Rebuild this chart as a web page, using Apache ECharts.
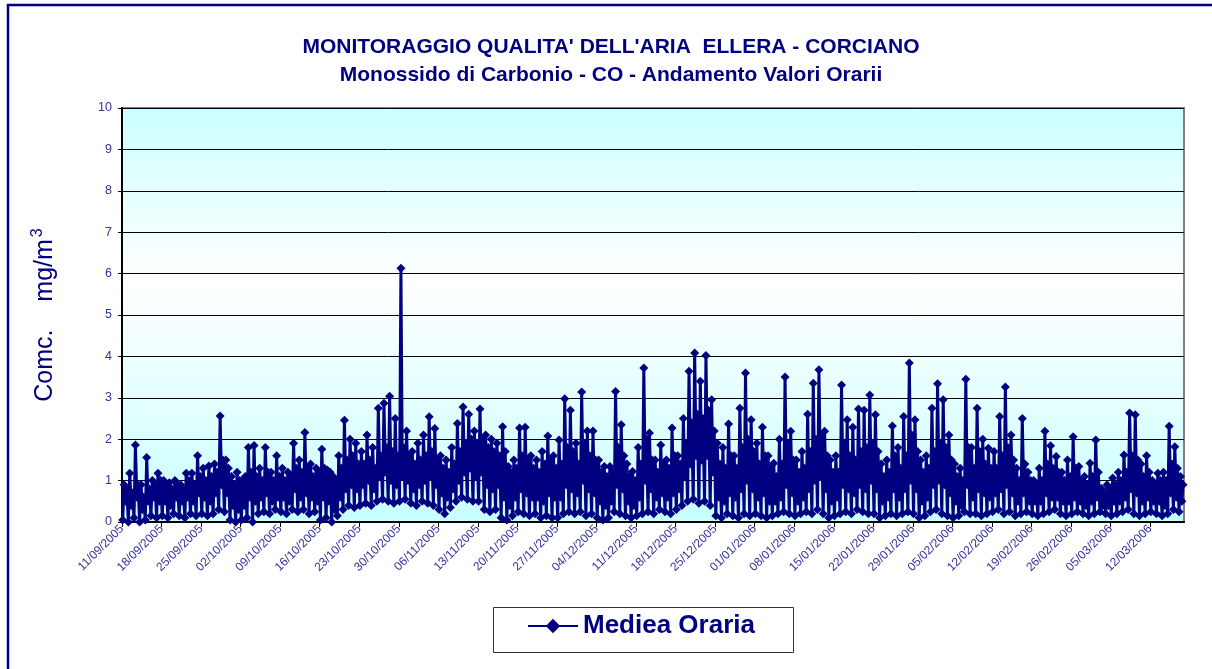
<!DOCTYPE html>
<html>
<head>
<meta charset="utf-8">
<script src="https://cdn.jsdelivr.net/npm/echarts@6/dist/echarts.min.js"></script>
<style>
	html, body { margin: 0; padding: 0; background: #fff; }
	#chart { width: 1212px; height: 669px; }
</style>
</head>
<body>
<div id="chart"></div>
<script>
// ore del giorno a cui sono letti i quattro valori giornalieri
var ore = [ 3, 9, 15, 20 ];

// etichette asse X (una ogni 7 giorni dal 11/09/2005)
var etichette = [
	'11/09/2005', '18/09/2005', '25/09/2005', '02/10/2005', '09/10/2005', '16/10/2005', '23/10/2005',
	'30/10/2005', '06/11/2005', '13/11/2005', '20/11/2005', '27/11/2005', '04/12/2005', '11/12/2005',
	'18/12/2005', '25/12/2005', '01/01/2006', '08/01/2006', '15/01/2006', '22/01/2006', '29/01/2006',
	'05/02/2006', '12/02/2006', '19/02/2006', '26/02/2006', '05/03/2006', '12/03/2006'
];

// valori notturni (ore 3), una riga per settimana
var notte = [
	0.05, 0.0, 0.1, 0.0, 0.05, 0.15, 0.1,
	0.15, 0.1, 0.2, 0.15, 0.1, 0.2, 0.15,
	0.2, 0.15, 0.2, 0.3, 0.25, 0.05, 0.0,
	0.05, 0.1, 0.0, 0.2, 0.25, 0.2, 0.3,
	0.25, 0.2, 0.3, 0.25, 0.3, 0.2, 0.25,
	0.05, 0.1, 0.0, 0.15, 0.3, 0.4, 0.35,
	0.4, 0.45, 0.4, 0.5, 0.55, 0.5, 0.45,
	0.5, 0.55, 0.45, 0.4, 0.5, 0.45, 0.4,
	0.3, 0.2, 0.35, 0.5, 0.6, 0.55, 0.5,
	0.5, 0.3, 0.25, 0.3, 0.1, 0.05, 0.15,
	0.25, 0.2, 0.15, 0.2, 0.1, 0.15, 0.1,
	0.1, 0.2, 0.25, 0.2, 0.25, 0.15, 0.2,
	0.1, 0.05, 0.1, 0.25, 0.2, 0.15, 0.1,
	0.15, 0.2, 0.25, 0.2, 0.3, 0.25, 0.2,
	0.3, 0.4, 0.5, 0.55, 0.45, 0.5, 0.4,
	0.15, 0.1, 0.2, 0.15, 0.1, 0.2, 0.15,
	0.2, 0.15, 0.1, 0.15, 0.2, 0.25, 0.2,
	0.15, 0.2, 0.25, 0.2, 0.3, 0.2, 0.1,
	0.15, 0.2, 0.25, 0.2, 0.3, 0.25, 0.2,
	0.2, 0.1, 0.15, 0.2, 0.15, 0.2, 0.25,
	0.2, 0.1, 0.15, 0.25, 0.3, 0.2, 0.15,
	0.1, 0.15, 0.25, 0.2, 0.2, 0.15, 0.2,
	0.25, 0.3, 0.2, 0.25, 0.15, 0.2, 0.25,
	0.2, 0.15, 0.2, 0.25, 0.3, 0.2, 0.15,
	0.2, 0.25, 0.2, 0.15, 0.2, 0.25, 0.2,
	0.15, 0.2, 0.25, 0.3, 0.2, 0.15, 0.2,
	0.25, 0.2, 0.15, 0.2, 0.3, 0.25
];

// punta del mattino (ore 9)
var mattina = [
	0.9, 1.18, 1.86, 0.9, 1.56, 1.0, 1.18,
	1.0, 0.95, 1.0, 0.9, 1.18, 1.18, 1.6,
	1.3, 1.35, 1.4, 2.56, 1.5, 1.1, 1.2,
	1.0, 1.8, 1.85, 1.3, 1.8, 1.2, 1.6,
	1.3, 1.2, 1.9, 1.5, 2.16, 1.4, 1.3,
	1.76, 1.25, 1.1, 1.6, 2.46, 2.0, 1.9,
	1.7, 2.1, 1.8, 2.75, 2.87, 3.04, 2.5,
	6.13, 2.2, 1.7, 1.9, 2.1, 2.54, 2.26,
	1.6, 1.5, 1.8, 2.38, 2.78, 2.6, 2.2,
	2.73, 2.1, 2.0, 1.9, 2.3, 1.34, 1.5,
	2.27, 2.29, 1.6, 1.5, 1.7, 2.08, 1.6,
	1.98, 2.98, 2.7, 1.9, 3.14, 2.2, 2.2,
	1.5, 1.34, 1.34, 3.15, 2.35, 1.4, 1.22,
	1.8, 3.72, 2.15, 1.5, 1.86, 1.5, 2.27,
	1.6, 2.5, 3.64, 4.08, 3.4, 4.02, 2.95,
	1.9, 1.8, 2.37, 1.6, 2.75, 3.6, 2.47,
	1.9, 2.29, 1.6, 1.42, 2.0, 3.5, 2.19,
	1.5, 1.7, 2.6, 3.35, 3.68, 2.19, 1.5,
	1.6, 3.31, 2.47, 2.29, 2.73, 2.7, 3.07,
	2.59, 1.4, 1.5, 2.32, 1.8, 2.55, 3.84,
	2.47, 1.5, 1.6, 2.75, 3.34, 2.95, 2.1,
	1.4, 1.3, 3.45, 1.8, 2.75, 2.0, 1.78,
	1.7, 2.55, 3.26, 2.1, 1.3, 2.5, 1.2,
	1.0, 1.3, 2.19, 1.84, 1.58, 1.2, 1.5,
	2.06, 1.34, 1.1, 1.42, 1.98, 0.81, 0.9,
	1.06, 1.2, 1.62, 2.63, 2.59, 1.4, 1.6,
	1.0, 1.18, 1.2, 2.31, 1.82, 1.1
];

// pomeriggio (ore 15)
var pomeriggio = [
	0.5, 0.4, 0.6, 0.3, 0.5, 0.6, 0.5,
	0.5, 0.4, 0.6, 0.5, 0.6, 0.5, 0.7,
	0.6, 0.5, 0.7, 0.9, 0.7, 0.4, 0.3,
	0.4, 0.6, 0.5, 0.6, 0.7, 0.5, 0.6,
	0.6, 0.5, 0.8, 0.6, 0.7, 0.6, 0.5,
	0.6, 0.5, 0.3, 0.6, 0.8, 0.9, 0.8,
	0.9, 1.0, 0.8, 1.1, 1.2, 1.0, 0.9,
	1.1, 1.0, 0.8, 0.9, 1.0, 1.1, 0.9,
	0.7, 0.6, 0.8, 1.0, 1.2, 1.3, 1.1,
	1.2, 0.9, 0.8, 0.9, 0.6, 0.4, 0.6,
	0.8, 0.7, 0.6, 0.6, 0.5, 0.7, 0.6,
	0.6, 0.9, 0.8, 0.7, 1.0, 0.8, 0.7,
	0.5, 0.4, 0.5, 0.9, 0.8, 0.5, 0.4,
	0.6, 1.0, 0.8, 0.6, 0.7, 0.6, 0.7,
	0.8, 1.1, 1.4, 1.6, 1.5, 1.6, 1.2,
	0.6, 0.5, 0.7, 0.6, 0.8, 1.0, 0.8,
	0.6, 0.7, 0.5, 0.5, 0.6, 0.9, 0.7,
	0.5, 0.6, 0.8, 1.0, 1.1, 0.8, 0.5,
	0.6, 0.9, 0.8, 0.7, 0.9, 0.8, 1.0,
	0.8, 0.5, 0.6, 0.8, 0.6, 0.8, 1.0,
	0.8, 0.5, 0.6, 0.9, 1.0, 0.9, 0.7,
	0.5, 0.4, 0.9, 0.6, 0.8, 0.7, 0.6,
	0.7, 0.8, 0.9, 0.7, 0.5, 0.7, 0.5,
	0.5, 0.5, 0.7, 0.6, 0.6, 0.5, 0.5,
	0.6, 0.5, 0.4, 0.5, 0.6, 0.4, 0.4,
	0.5, 0.5, 0.6, 0.8, 0.7, 0.5, 0.6,
	0.5, 0.5, 0.4, 0.7, 0.6, 0.5
];

// sera (ore 20)
var sera = [
	0.8, 0.7, 0.9, 0.6, 0.8, 0.9, 1.0,
	0.9, 0.8, 0.9, 0.8, 1.0, 0.9, 1.1,
	1.0, 1.1, 1.2, 1.5, 1.3, 0.9, 1.0,
	1.1, 1.2, 1.1, 1.0, 1.2, 1.0, 1.1,
	1.0, 1.1, 1.3, 1.2, 1.3, 1.1, 1.2,
	1.3, 1.2, 1.0, 1.3, 1.5, 1.6, 1.4,
	1.4, 1.5, 1.3, 1.6, 1.8, 1.7, 1.6,
	1.8, 1.6, 1.4, 1.5, 1.6, 1.7, 1.5,
	1.3, 1.2, 1.4, 1.7, 1.9, 2.0, 1.9,
	2.0, 1.8, 1.7, 1.6, 1.7, 1.2, 1.3,
	1.6, 1.5, 1.3, 1.2, 1.4, 1.5, 1.3,
	1.4, 1.8, 1.7, 1.4, 1.9, 1.6, 1.5,
	1.2, 1.1, 1.2, 1.8, 1.6, 1.1, 1.0,
	1.4, 2.0, 1.5, 1.2, 1.4, 1.3, 1.6,
	1.4, 1.9, 2.4, 2.6, 2.5, 2.7, 2.2,
	1.4, 1.3, 1.6, 1.3, 1.8, 2.0, 1.7,
	1.4, 1.6, 1.3, 1.1, 1.4, 1.9, 1.5,
	1.2, 1.3, 1.7, 2.0, 2.1, 1.6, 1.2,
	1.2, 1.9, 1.6, 1.5, 1.7, 1.8, 1.9,
	1.7, 1.1, 1.2, 1.6, 1.3, 1.6, 2.1,
	1.7, 1.2, 1.3, 1.7, 1.9, 1.8, 1.5,
	1.1, 1.0, 1.8, 1.3, 1.7, 1.4, 1.3,
	1.3, 1.6, 1.8, 1.5, 1.0, 1.4, 1.0,
	0.9, 1.0, 1.4, 1.3, 1.2, 1.0, 1.1,
	1.3, 1.0, 0.9, 1.1, 1.2, 0.7, 0.8,
	0.9, 1.0, 1.2, 1.6, 1.5, 1.1, 1.2,
	0.9, 1.0, 1.0, 1.4, 1.3, 0.9
];

var chartDom = document.getElementById('chart');
var myChart = echarts.init(chartDom, null, { renderer: 'canvas' });

var blu = '#000080';
var bluTesto = '#333399';
var font = '"Liberation Sans", Arial, sans-serif';

// serie oraria: x = giorni dal 11/09/2005
var data = [];
for (var d = 0; d < mattina.length; d++) {
	data.push([ d + ore[0] / 24, notte[d] ]);
	data.push([ d + ore[1] / 24, mattina[d] ]);
	data.push([ d + ore[2] / 24, pomeriggio[d] ]);
	data.push([ d + ore[3] / 24, sera[d] ]);
}

var option = {
	animation: false,
	backgroundColor: '#fff',
	textStyle: { fontFamily: font },
	graphic: {
		elements: [
			{
				type: 'rect',
				z: -10,
				shape: { x: 8, y: 5, width: 1212, height: 680 },
				style: { fill: 'none', stroke: blu, lineWidth: 2.5 }
			},
			{
				type: 'text',
				style: {
					x: 611, y: 47, text: "MONITORAGGIO QUALITA' DELL'ARIA  ELLERA - CORCIANO",
					font: 'bold 21px ' + font, fill: blu, textAlign: 'center', textVerticalAlign: 'middle'
				}
			},
			{
				type: 'text',
				style: {
					x: 611, y: 75, text: 'Monossido di Carbonio - CO - Andamento Valori Orarii',
					font: 'bold 21px ' + font, fill: blu, textAlign: 'center', textVerticalAlign: 'middle'
				}
			},
			{
				type: 'rect',
				shape: { x: 493.5, y: 607.5, width: 300, height: 45 },
				style: { fill: '#fff', stroke: '#333', lineWidth: 1 }
			}
		]
	},
	legend: {
		data: [ 'Mediea Oraria' ],
		left: 527,
		top: 613,
		padding: 0,
		itemWidth: 50,
		itemHeight: 18,
		itemGap: 8,
		textStyle: { color: blu, fontSize: 26, fontWeight: 'bold', fontFamily: font }
	},
	grid: {
		left: 122,
		right: 28,
		top: 108,
		bottom: 147,
		show: true,
		borderColor: '#808080',
		borderWidth: 2,
		backgroundColor: {
			type: 'linear', x: 0, y: 0, x2: 0, y2: 1,
			colorStops: [
				{ offset: 0, color: '#ccffff' },
				{ offset: 0.42, color: '#ffffff' },
				{ offset: 1, color: '#c8ffff' }
			]
		}
	},
	xAxis: {
		type: 'value',
		min: 0,
		max: 188,
		interval: 7,
		axisLine: { show: true, onZero: false, lineStyle: { color: '#000', width: 2 } },
		axisTick: { show: true, length: 5, lineStyle: { color: '#000' } },
		splitLine: { show: false },
		axisLabel: {
			rotate: 45,
			margin: 5,
			color: bluTesto,
			fontSize: 12,
			fontFamily: font,
			showMaxLabel: false,
			formatter: function (v) {
				return v % 7 === 0 ? etichette[v / 7] || '' : '';
			}
		}
	},
	yAxis: {
		type: 'value',
		min: 0,
		max: 10,
		interval: 1,
		name: '{a|Comc.    mg/m}{s|3}',
		nameLocation: 'middle',
		nameGap: 62,
		nameTextStyle: {
			rich: {
				a: { fontSize: 25, color: blu, fontFamily: font },
				s: { fontSize: 16, color: blu, fontFamily: font, verticalAlign: 'top', padding: [ 0, 0, 14, 2 ] }
			}
		},
		axisLine: { show: true, lineStyle: { color: '#000', width: 2 } },
		axisTick: { show: true, length: 4, lineStyle: { color: '#000' } },
		splitLine: { show: true, lineStyle: { color: '#000', width: 1 } },
		axisLabel: { color: bluTesto, fontSize: 12.5, fontFamily: font, margin: 10 }
	},
	series: [
		{
			name: 'Mediea Oraria',
			type: 'line',
			data: data,
			symbol: 'diamond',
			symbolSize: 9,
			showAllSymbol: true,
			sampling: null,
			lineStyle: { color: blu, width: 3 },
			itemStyle: { color: blu, borderWidth: 0 }
		}
	]
};

option && myChart.setOption(option);
</script>
</body>
</html>
